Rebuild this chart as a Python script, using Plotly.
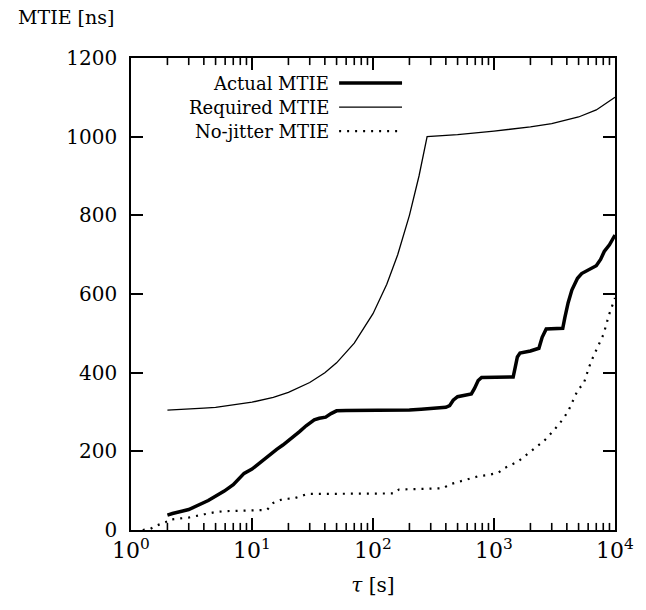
import plotly.graph_objects as go

# ---- data ----
req_tau = [2, 3, 4, 5, 7, 10, 15, 20, 30, 40, 50, 70, 100, 130, 160, 200, 240, 280,
           500, 1000, 2000, 3000, 5000, 7000, 10000]
req_val = [305, 307, 310, 312, 318, 325, 337, 350, 375, 400, 425, 475, 550, 625, 700, 800, 900, 1000,
           1005, 1014, 1025, 1033, 1050, 1068, 1100]

act_tau = [2, 2.2, 3, 4.35, 5.9, 7, 8.6, 10, 11, 13.3, 16, 18, 21, 24.7, 28, 32.7, 36, 40.6, 45, 50,
           60, 100, 200, 250, 300, 400, 430, 460, 500, 560, 650, 690, 740, 790, 1000, 1440,
           1500, 1560, 1640, 2000, 2350, 2500, 2700, 3000, 3700, 3850, 4100, 4400, 4900, 5300,
           6000, 7000, 7600, 8150, 9000, 10000]
act_val = [38, 42, 52, 75, 99, 115, 144, 155, 165, 186, 205, 216, 232, 250, 265, 280, 284, 287, 296, 303,
           304, 304, 305, 307, 309, 312, 316, 330, 339, 343, 346, 360, 380, 388, 388, 389,
           415, 440, 450, 455, 462, 490, 511, 511, 513, 540, 578, 610, 640, 652,
           660, 672, 688, 708, 725, 750]

nj_tau = [1.25, 1.45, 1.65, 2.0, 2.05, 3.04, 4.04, 5.08, 6.1, 9, 13.3, 15, 18, 22, 29, 50, 100, 149,
          164, 250, 380, 430, 550, 748, 902, 1087, 1230, 1577, 1960, 2580, 3100, 3720, 4120, 4520,
          4960, 5500, 6100, 6640, 7300, 8050, 8920, 10000]
nj_val = [0, 3, 12, 22, 26, 32, 40, 46, 48, 50, 51, 69, 79, 80, 92, 92, 93, 93,
          103, 105, 106, 116, 125, 137, 140, 146, 158, 174, 197, 226, 252, 282, 303, 330,
          358, 371, 414, 442, 469, 498, 547, 590]

x_major_vals = [1, 10, 100, 1000, 10000]
x_major_text = ["10<sup>0</sup>", "10<sup>1</sup>", "10<sup>2</sup>", "10<sup>3</sup>", "10<sup>4</sup>"]
x_minor_vals = [m * d for d in (1, 10, 100, 1000) for m in range(2, 10)]
y_tickvals = [0, 200, 400, 600, 800, 1000, 1200]

legend_names = ["Actual MTIE", "Required MTIE", "No-jitter MTIE"]

FONT = "DejaVu Serif"

fig = go.Figure()
fig.add_trace(go.Scatter(x=req_tau, y=req_val, mode="lines", name=legend_names[1],
                         line=dict(color="black", width=1.3), showlegend=False))
fig.add_trace(go.Scatter(x=act_tau, y=act_val, mode="lines", name=legend_names[0],
                         line=dict(color="black", width=3.5), showlegend=False))
fig.add_trace(go.Scatter(x=nj_tau, y=nj_val, mode="lines", name=legend_names[2],
                         line=dict(color="black", width=2.2, dash="2px,6px"), showlegend=False))

fig.update_layout(
    width=646, height=610,
    margin=dict(l=131, r=20, t=58, b=80),
    paper_bgcolor="white", plot_bgcolor="white",
    font=dict(family=FONT, size=20, color="black"),
    showlegend=False,
)
fig.update_xaxes(
    type="log", range=[0, 4],
    tickmode="array", tickvals=x_major_vals, ticktext=x_major_text,
    ticks="inside", ticklen=12, tickwidth=1.6, tickcolor="black",
    showline=True, linecolor="black", linewidth=1.5, mirror="allticks",
    showgrid=False, zeroline=False,
    tickfont=dict(family=FONT, size=22),
    title=dict(text="<i>τ</i> [s]", font=dict(family=FONT, size=20), standoff=16),
)
fig.update_yaxes(
    range=[0, 1200], tickvals=y_tickvals,
    ticks="inside", ticklen=12, tickwidth=1.5, tickcolor="black",
    showline=True, linecolor="black", linewidth=1.5, mirror="allticks",
    showgrid=False, zeroline=False,
    tickfont=dict(family=FONT, size=20),
    ticklabelstandoff=8,
)

# minor log ticks on bottom and top edges, positioned through the x scale
for v in x_minor_vals:
    fig.add_shape(type="line", xref="x", yref="paper", x0=v, x1=v, y0=0, y1=0.015,
                  line=dict(color="black", width=1.6))
    fig.add_shape(type="line", xref="x", yref="paper", x0=v, x1=v, y0=0.985, y1=1,
                  line=dict(color="black", width=1.6))

# y-axis label at top-left
fig.add_annotation(text="MTIE [ns]", xref="paper", yref="paper", x=-0.238, y=1.087,
                   xanchor="left", yanchor="middle", showarrow=False,
                   font=dict(family=FONT, size=19))

# manual legend: right-aligned text, sample on the right
leg_y = [0.947, 0.896, 0.845]
leg_styles = [dict(color="black", width=3.5), dict(color="black", width=1.3),
              dict(color="black", width=2.2, dash="2px,6px")]
for name, yy, st in zip(legend_names, leg_y, leg_styles):
    fig.add_annotation(text=name, xref="paper", yref="paper", x=0.413, y=yy,
                       xanchor="right", yanchor="middle", showarrow=False,
                       font=dict(family=FONT, size=18))
    fig.add_shape(type="line", xref="paper", yref="paper", x0=0.43, x1=0.56, y0=yy, y1=yy,
                  line=st)

fig.write_html("out.html")
